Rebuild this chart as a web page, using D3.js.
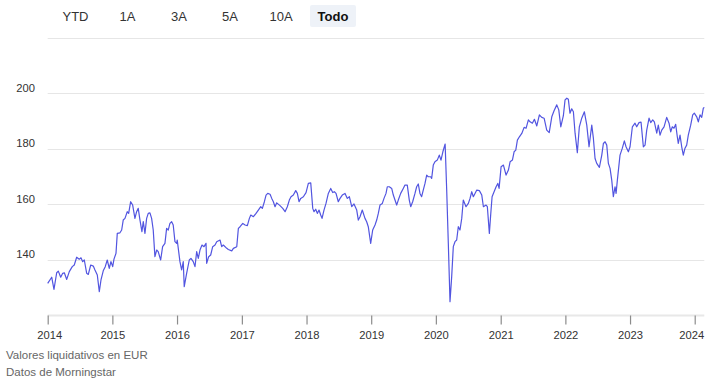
<!DOCTYPE html>
<html>
<head>
<meta charset="utf-8">
<script src="https://cdn.jsdelivr.net/npm/d3@7/dist/d3.min.js"></script>
<style>
  html, body { margin: 0; padding: 0; background: #ffffff; }
  svg { display: block; font-family: "Liberation Sans", Arial, sans-serif; }
</style>
</head>
<body>
<svg id="chart" width="728" height="380"></svg>
<script>
// ---- Data ----
const rangeButtons = ["YTD", "1A", "3A", "5A", "10A", "Todo"];
const activeButton = "Todo";
const yTicks = [140, 160, 180, 200];
const yGrid = [140, 160, 180, 200, 220];
const xTickYears = [2014, 2015, 2016, 2017, 2018, 2019, 2020, 2021, 2022, 2023, 2024];
const footnotes = ["Valores liquidativos en EUR", "Datos de Morningstar"];

// decimal years
const years = [
  2014.000, 2014.062, 2014.097, 2014.139, 2014.164, 2014.201, 2014.232, 2014.257, 2014.294, 2014.334,
  2014.380, 2014.411, 2014.448, 2014.488, 2014.515, 2014.541, 2014.566, 2014.603, 2014.628, 2014.665,
  2014.705, 2014.731, 2014.767, 2014.798, 2014.824, 2014.859, 2014.890, 2014.921, 2014.952, 2014.978,
  2015.005, 2015.025, 2015.056, 2015.076, 2015.117, 2015.144, 2015.168, 2015.195, 2015.230, 2015.252,
  2015.283, 2015.314, 2015.349, 2015.375, 2015.400, 2015.427, 2015.457, 2015.478, 2015.504, 2015.530,
  2015.555, 2015.581, 2015.607, 2015.632, 2015.658, 2015.685, 2015.709, 2015.747, 2015.777, 2015.813,
  2015.839, 2015.864, 2015.890, 2015.917, 2015.941, 2015.968, 2015.994, 2016.003, 2016.045, 2016.071,
  2016.096, 2016.111, 2016.148, 2016.189, 2016.215, 2016.250, 2016.277, 2016.303, 2016.328, 2016.354,
  2016.385, 2016.416, 2016.447, 2016.457, 2016.488, 2016.519, 2016.550, 2016.586, 2016.612, 2016.663,
  2016.689, 2016.714, 2016.767, 2016.791, 2016.844, 2016.869, 2016.921, 2016.946, 2016.972, 2017.014,
  2017.049, 2017.085, 2017.116, 2017.138, 2017.178, 2017.219, 2017.255, 2017.292, 2017.317, 2017.348,
  2017.374, 2017.400, 2017.436, 2017.462, 2017.487, 2017.513, 2017.539, 2017.590, 2017.632, 2017.668,
  2017.703, 2017.734, 2017.760, 2017.796, 2017.833, 2017.858, 2017.884, 2017.910, 2017.951, 2017.992,
  2018.028, 2018.065, 2018.096, 2018.116, 2018.142, 2018.167, 2018.193, 2018.219, 2018.240, 2018.270,
  2018.301, 2018.337, 2018.374, 2018.405, 2018.430, 2018.456, 2018.491, 2018.518, 2018.553, 2018.595,
  2018.631, 2018.662, 2018.699, 2018.734, 2018.776, 2018.801, 2018.827, 2018.862, 2018.904, 2018.930,
  2018.955, 2018.981, 2018.992, 2019.023, 2019.059, 2019.085, 2019.110, 2019.136, 2019.172, 2019.198,
  2019.229, 2019.249, 2019.280, 2019.317, 2019.342, 2019.368, 2019.394, 2019.419, 2019.456, 2019.496,
  2019.522, 2019.558, 2019.589, 2019.611, 2019.641, 2019.677, 2019.703, 2019.728, 2019.754, 2019.780,
  2019.805, 2019.832, 2019.858, 2019.882, 2019.920, 2019.935, 2019.960, 2019.986, 2020.022, 2020.053,
  2020.079, 2020.108, 2020.143, 2020.167, 2020.192, 2020.218, 2020.244, 2020.269, 2020.295, 2020.321,
  2020.346, 2020.372, 2020.399, 2020.423, 2020.465, 2020.501, 2020.527, 2020.553, 2020.578, 2020.631,
  2020.671, 2020.708, 2020.733, 2020.774, 2020.794, 2020.825, 2020.847, 2020.867, 2020.898, 2020.929,
  2020.955, 2020.975, 2021.006, 2021.042, 2021.083, 2021.119, 2021.145, 2021.181, 2021.207, 2021.233,
  2021.258, 2021.289, 2021.326, 2021.362, 2021.393, 2021.428, 2021.454, 2021.490, 2021.521, 2021.558,
  2021.598, 2021.635, 2021.671, 2021.712, 2021.750, 2021.790, 2021.825, 2021.867, 2021.898, 2021.929,
  2021.969, 2021.995, 2022.022, 2022.046, 2022.071, 2022.098, 2022.124, 2022.150, 2022.185, 2022.216,
  2022.253, 2022.294, 2022.331, 2022.366, 2022.408, 2022.433, 2022.459, 2022.485, 2022.526, 2022.563,
  2022.588, 2022.614, 2022.640, 2022.665, 2022.691, 2022.717, 2022.742, 2022.768, 2022.784, 2022.804,
  2022.845, 2022.881, 2022.912, 2022.938, 2022.974, 2023.000, 2023.036, 2023.077, 2023.103, 2023.139,
  2023.170, 2023.206, 2023.232, 2023.258, 2023.294, 2023.320, 2023.351, 2023.376, 2023.413, 2023.437,
  2023.464, 2023.490, 2023.526, 2023.567, 2023.603, 2023.629, 2023.654, 2023.680, 2023.706, 2023.731,
  2023.746, 2023.773, 2023.799, 2023.824, 2023.850, 2023.876, 2023.901, 2023.938, 2023.969, 2023.994,
  2024.031, 2024.056, 2024.082, 2024.108, 2024.133, 2024.148
];

const values = [
  131.6, 133.8, 129.4, 135.4, 136.0, 133.8, 135.2, 135.4, 133.0, 135.8,
  137.6, 138.2, 141.0, 140.3, 140.8, 139.4, 140.0, 135.2, 134.8, 138.2,
  137.8, 136.4, 134.6, 128.6, 132.8, 136.1, 137.6, 140.0, 137.0, 139.4,
  137.6, 140.3, 142.4, 149.6, 149.8, 150.8, 154.4, 155.0, 157.4, 156.8,
  161.0, 159.8, 155.0, 157.4, 158.6, 154.4, 150.2, 153.8, 149.6, 155.0,
  156.8, 157.0, 155.0, 150.8, 141.2, 143.6, 143.0, 140.0, 144.8, 146.0,
  151.4, 150.8, 153.2, 153.8, 152.6, 146.6, 146.0, 147.2, 139.4, 136.4,
  139.4, 130.4, 135.2, 140.0, 140.6, 139.4, 137.6, 143.0, 140.6, 143.6,
  145.4, 144.8, 146.0, 138.8, 141.2, 141.8, 144.8, 145.4, 146.6, 147.2,
  144.8, 145.4, 144.2, 143.8, 143.3, 144.2, 144.8, 151.4, 152.0, 153.2,
  152.6, 152.4, 155.0, 156.2, 155.6, 156.8, 158.0, 159.2, 158.6, 161.0,
  163.4, 164.0, 163.7, 162.2, 161.0, 159.2, 160.6, 159.6, 158.6, 157.4,
  159.2, 161.6, 162.8, 163.4, 165.0, 164.0, 161.0, 162.2, 162.8, 164.3,
  167.6, 167.8, 158.6, 157.4, 158.3, 156.8, 158.0, 156.2, 155.0, 158.0,
  160.4, 164.0, 165.8, 164.3, 164.6, 164.0, 161.0, 162.2, 163.4, 164.0,
  162.2, 162.8, 159.2, 160.2, 158.0, 154.4, 155.6, 158.0, 155.0, 153.8,
  152.0, 147.8, 146.0, 150.8, 152.6, 154.4, 156.8, 159.8, 160.4, 162.2,
  164.0, 166.4, 166.4, 165.8, 163.4, 161.6, 159.8, 161.6, 164.0, 165.8,
  167.0, 167.0, 161.6, 159.2, 161.0, 164.0, 166.4, 167.4, 164.0, 162.8,
  165.2, 167.6, 170.6, 170.0, 170.0, 169.4, 174.2, 175.4, 176.0, 177.8,
  176.0, 179.0, 181.8, 165.2, 146.0, 125.0, 134.0, 144.8, 146.6, 147.2,
  152.0, 150.8, 155.0, 161.6, 159.2, 160.4, 162.2, 164.6, 162.8, 165.2,
  165.0, 163.4, 159.2, 159.8, 159.2, 149.6, 156.8, 162.8, 164.6, 166.4,
  167.6, 165.8, 173.6, 174.2, 170.6, 172.4, 175.4, 176.0, 179.0, 179.6,
  183.2, 184.4, 185.6, 187.8, 187.5, 190.5, 189.8, 189.3, 190.7, 188.3,
  192.3, 191.4, 191.1, 186.8, 185.9, 191.6, 193.8, 195.9, 194.1, 188.0,
  192.0, 197.7, 198.3, 197.9, 192.9, 194.5, 193.4, 185.7, 178.7, 188.0,
  191.1, 193.4, 188.6, 180.8, 188.6, 183.9, 176.6, 174.8, 173.4, 177.8,
  182.0, 182.6, 181.4, 174.8, 173.0, 168.8, 162.8, 166.4, 164.0, 168.8,
  177.8, 180.3, 182.9, 180.8, 179.0, 180.8, 188.0, 189.3, 188.0, 189.5,
  189.7, 180.8, 181.4, 186.8, 191.1, 189.5, 190.5, 189.8, 185.7, 188.6,
  185.0, 186.8, 188.0, 191.4, 189.3, 186.2, 188.0, 187.5, 188.9, 184.4,
  182.0, 185.0, 180.8, 177.8, 180.3, 181.4, 185.0, 188.6, 192.3, 192.9,
  191.6, 189.8, 192.3, 191.4, 194.7, 195.0
];

// ---- helpers ----
function decYearToDate(t) {
  const y = Math.floor(t);
  const a = new Date(y, 0, 1), b = new Date(y + 1, 0, 1);
  return new Date(+a + (t - y) * (b - a));
}
const data = years.map((t, i) => ({ date: decYearToDate(t), value: values[i] }));

const svg = d3.select("#chart");
const W = 728, H = 380;
const margin = { left: 47.7, right: W - 704.3, top: 38, bottom: H - 315.5 };

const x = d3.scaleTime()
  .domain([new Date(2014, 0, 1), data[data.length - 1].date])
  .range([margin.left, W - margin.right]);
const y = d3.scaleLinear()
  .domain([120, 220])
  .range([H - margin.bottom, margin.top]);

// ---- range buttons ----
const btnCenters = [75.5, 127.5, 179, 230, 281, 333];
const btnG = svg.append("g");
rangeButtons.forEach((b, i) => {
  const active = b === activeButton;
  if (active) {
    btnG.append("rect")
      .attr("x", btnCenters[i] - 23).attr("y", 5)
      .attr("width", 46).attr("height", 22)
      .attr("rx", 2)
      .attr("fill", "#eef2f8");
  }
  btnG.append("text")
    .attr("x", btnCenters[i]).attr("y", 21)
    .attr("text-anchor", "middle")
    .attr("font-size", 13)
    .attr("font-weight", active ? "bold" : "normal")
    .attr("fill", active ? "#111" : "#333")
    .text(b);
});

// ---- grid ----
svg.append("g").selectAll("line").data(yGrid).join("line")
  .attr("x1", margin.left).attr("x2", W - margin.right)
  .attr("y1", d => Math.round(y(d)) + 0.5).attr("y2", d => Math.round(y(d)) + 0.5)
  .attr("stroke", "#e6e6e6").attr("stroke-width", 1);

// y labels
svg.append("g").selectAll("text").data(yTicks).join("text")
  .attr("x", 35).attr("y", d => y(d) - 2)
  .attr("text-anchor", "end")
  .attr("font-size", 11.2)
  .attr("fill", "#333")
  .text(d => d);

// ---- x axis ----
const xAxisG = svg.append("g")
  .attr("transform", `translate(0,${H - margin.bottom})`)
  .call(d3.axisBottom(x)
    .tickValues(xTickYears.map(yr => new Date(yr, 0, 1)))
    .tickFormat(d3.timeFormat("%Y"))
    .tickSize(9)
    .tickPadding(7));
xAxisG.select(".domain").attr("stroke", "#e8e8e8").attr("stroke-width", 2)
  .attr("d", `M${margin.left},0H${W - margin.right}`);
xAxisG.selectAll(".tick line").attr("stroke", "#8c8c8c").attr("stroke-width", 1.2);
const lastIdx = xTickYears.length - 1;
xAxisG.selectAll(".tick text")
  .attr("font-size", 11.2)
  .attr("font-family", "Liberation Sans, Arial, sans-serif")
  .attr("fill", "#333")
  .attr("dx", (d, i) => i === 0 ? 1.5 : (i === lastIdx ? -3.5 : 0));

// ---- line ----
const line = d3.line().x(d => x(d.date)).y(d => y(d.value));
svg.append("path")
  .datum(data)
  .attr("d", line)
  .attr("fill", "none")
  .attr("stroke", "#5255e0")
  .attr("stroke-width", 1.2)
  .attr("stroke-linejoin", "round");

// ---- footnotes ----
svg.append("g").selectAll("text").data(footnotes).join("text")
  .attr("x", 6).attr("y", (d, i) => 359 + i * 17)
  .attr("font-size", 11.5)
  .attr("fill", "#666")
  .text(d => d);
</script>
</body>
</html>
